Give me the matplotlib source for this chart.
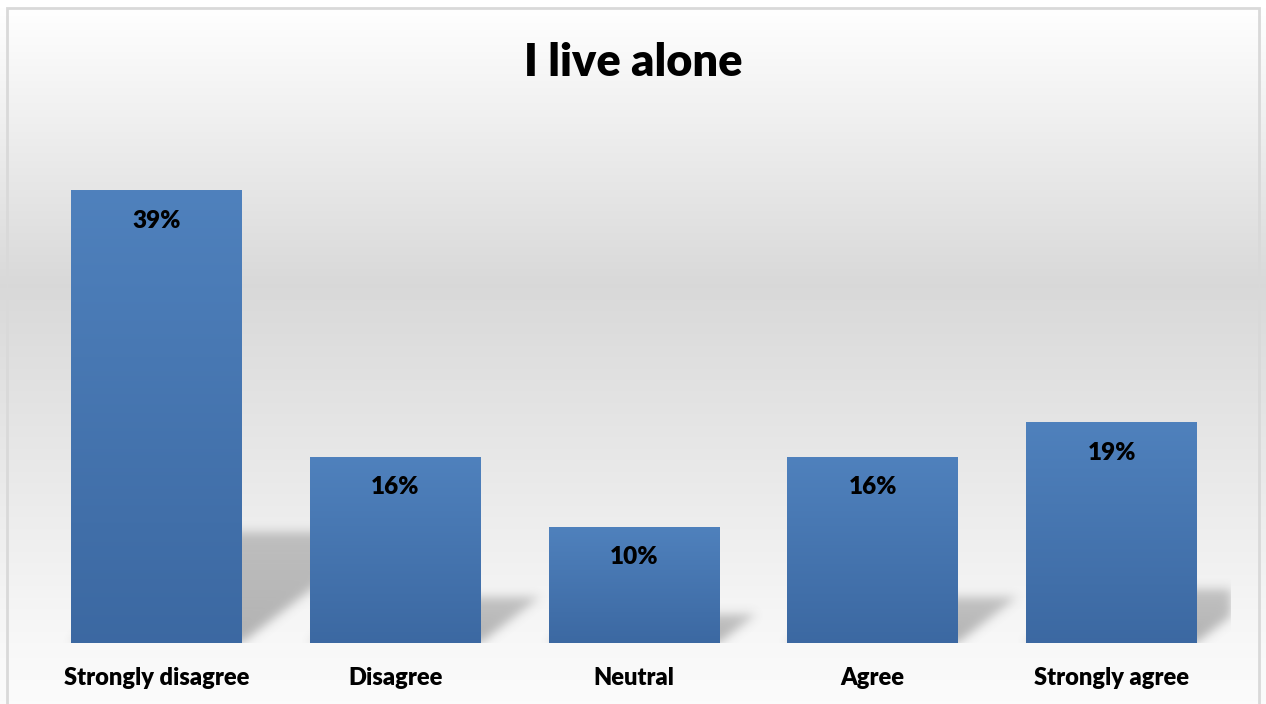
import numpy as np
from matplotlib import pyplot as plt
from matplotlib.patches import Rectangle

categories = ['Strongly disagree', 'Disagree', 'Neutral', 'Agree', 'Strongly agree']
values = [39, 16, 10, 16, 19]
value_labels = ['39%', '16%', '10%', '16%', '19%']
title = 'I live alone'

W, H, DPI = 1266, 704, 100
Y_MAX = 45
BAR_WIDTH = 0.715

plt.rcParams['font.family'] = ['Lato', 'DejaVu Sans']


def blur(a, sigma):
    """Separable gaussian blur done with shifted sums."""
    r = int(3 * sigma)
    k = np.exp(-0.5 * (np.arange(-r, r + 1) / sigma) ** 2)
    k /= k.sum()
    for axis in (0, 1):
        p = [(0, 0), (0, 0)]
        p[axis] = (r, r)
        padded = np.pad(a, p, mode='constant')
        n = a.shape[axis]
        out = np.zeros_like(a)
        for i, w in enumerate(k):
            out += w * np.take(padded, np.arange(i, i + n), axis=axis)
        a = out
    return a


def vgrad(top, bottom, n=256):
    t = np.linspace(0, 1, n)[:, None]
    top = np.array(top)[None, :]
    bottom = np.array(bottom)[None, :]
    return (top * (1 - t) + bottom * t)[:, None, :]


def main():
    fig = plt.figure(figsize=(W / DPI, H / DPI), dpi=DPI)

    # chart area background: white -> gray -> white
    bg = fig.add_axes([0, 0, 1, 1], zorder=0)
    ys = np.arange(H)
    stops_y = [0, 8, 285, 650, H]
    stops_v = [1.0, 1.0, 0.85, 0.975, 0.985]
    g = np.interp(ys, stops_y, stops_v)
    bg.imshow(np.repeat(g[:, None], 3, axis=1)[:, None, :], aspect='auto',
              extent=(0, 1, 0, 1), interpolation='bilinear')
    bg.set_xlim(0, 1)
    bg.set_ylim(0, 1)
    bg.axis('off')
    bg.add_patch(Rectangle((7.5 / W, -0.05), (1259 - 7.5) / W, 1.05 - 8 / H,
                           transform=bg.transAxes, fill=False,
                           edgecolor='#d9d9d9', linewidth=2))

    ax_l, ax_b = 37 / W, (H - 643) / H
    ax_w, ax_h = 1194 / W, 522 / H
    ax = fig.add_axes([ax_l, ax_b, ax_w, ax_h], zorder=1)
    ax.patch.set_alpha(0)
    x = np.arange(len(categories))
    ax.set_xlim(-0.5, len(categories) - 0.5)
    ax.set_ylim(0, Y_MAX)

    # perspective shadows cast to the right of each bar
    nx, ny = 1194, 540
    gx = np.linspace(-0.5, len(categories) - 0.5, nx)
    gy = np.linspace(-18 * Y_MAX / 522, Y_MAX, ny)
    X, Y = np.meshgrid(gx, gy)
    px_x = 1194 / len(categories)
    px_y = 522 / Y_MAX
    mask = np.zeros_like(X)
    for xi, v in zip(x, values):
        dy = 0.245 * v
        dx = 1.3 * dy * px_y / px_x
        shear = dx / dy
        left, right = xi - BAR_WIDTH / 2, xi + BAR_WIDTH / 2
        inside = (Y >= 0) & (Y <= dy) & (X >= left + Y * shear) & (X <= right + Y * shear)
        mask = np.maximum(mask, inside * (1 - 0.25 * np.clip(Y / dy, 0, 1)))
    mask = blur(mask, 5)
    shadow = np.zeros((ny, nx, 4))
    shadow[..., :3] = 0.45
    shadow[..., 3] = mask * 0.52
    ax.imshow(shadow[::-1], extent=(gx[0], gx[-1], gy[0], gy[-1]), aspect='auto',
              interpolation='bilinear', zorder=1)

    # gradient-filled bars
    top_c, bot_c = (0.31, 0.506, 0.74), (0.235, 0.41, 0.635)
    for xi, v, lab in zip(x, values, value_labels):
        ax.imshow(vgrad(top_c, bot_c), extent=(xi - BAR_WIDTH / 2, xi + BAR_WIDTH / 2, 0, v),
                  aspect='auto', interpolation='bilinear', zorder=2)
        ax.annotate(lab, (xi, v), xytext=(0, -21.6), textcoords='offset points',
                    ha='center', va='center', fontsize=17.5, fontweight='heavy', zorder=3)

    ax.set_xlim(-0.5, len(categories) - 0.5)
    ax.set_ylim(0, Y_MAX)
    ax.set_xticks(x)
    ax.set_xticklabels(categories, fontsize=17, fontweight='heavy')
    ax.tick_params(axis='x', length=0, pad=17)
    ax.set_yticks([])
    for s in ax.spines.values():
        s.set_visible(False)

    fig.text(0.5, 1 - 62 / H, title, ha='center', va='center',
             fontsize=32.5, fontweight='heavy')

    fig.savefig('out.png', dpi=DPI)


if __name__ == "__main__":
    main()
